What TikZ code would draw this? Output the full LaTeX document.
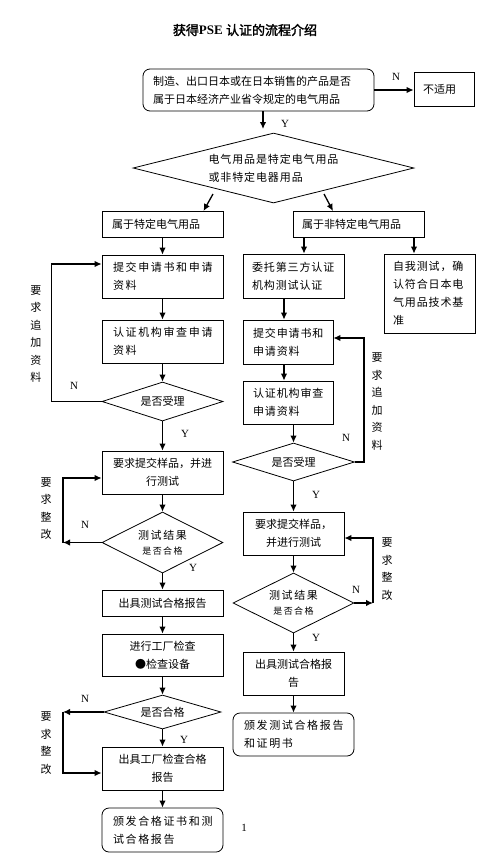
\documentclass[tikz,border=0pt]{standalone}
\usepackage{fontspec}
\setmainfont{Liberation Serif}
\newfontfamily\fa{Noto Sans CJK SC}
\newfontfamily\fb{Noto Sans CJK SC}[LetterSpace=8]
\newfontfamily\fc{Noto Sans CJK SC}[LetterSpace=15]
\newfontfamily\ftb{Noto Sans CJK SC}[FakeBold=2]
\usetikzlibrary{arrows.meta,shapes.geometric,calc}
\tikzset{
  bx/.style={draw, line width=0.8pt, inner sep=0pt},
  rb/.style={bx, rounded corners=7pt},
  dm/.style={draw, line width=0.8pt, diamond, inner sep=0pt},
  fA/.style={font=\fontsize{11}{18}\selectfont\fa},
  fB/.style={font=\fontsize{11}{18}\selectfont\fb},
  fC/.style={font=\fontsize{11}{18}\selectfont\fc},
  arr/.style={line width=1.3pt, -{Latex[length=7pt,width=6.5pt]}},
  ln/.style={line width=1.3pt},
  lab/.style={font=\fontsize{11}{13}\selectfont, inner sep=0pt},
  vlab/.style={font=\fontsize{11}{17.5}\selectfont\fa, align=center, inner sep=0pt}
}
\begin{document}
\begin{tikzpicture}[x=1pt,y=-1pt]
\fill[white] (0,0) rectangle (500,865);
\useasboundingbox (0,0) rectangle (500,865);

% title
\node[font=\fontsize{13}{15}\selectfont, inner sep=0pt] (title) at (245,30) {{\ftb 获得}\textbf{PSE} {\ftb 认证的流程介绍}};

% top
\node[rb, fA, minimum width=231pt, minimum height=42pt, text width=211pt, align=left] (top) at (258.5,90) {制造、出口日本或在日本销售的产品是否\\属于日本经济产业省令规定的电气用品};
\node[bx, fA, minimum width=60pt, minimum height=34pt, text width=42pt, align=left] (na) at (444,89) {不适用};
\node[dm, fB, minimum width=281pt, minimum height=70pt, shape aspect=4, align=left] (d1) at (273.5,168) {电气用品是特定电气用品\\或非特定电器用品};
\node[bx, fA, minimum width=121pt, minimum height=26pt, text width=101pt, align=left] (B1) at (162.5,224) {属于特定电气用品};
\node[bx, fA, minimum width=131pt, minimum height=26pt, text width=113pt, align=left] (B2) at (358.5,224) {属于非特定电气用品};

% left column
\node[bx, fC, minimum width=121pt, minimum height=43pt, text width=99pt, align=left] (L1) at (162.5,276.5) {提交申请书和申请\\资料};
\node[bx, fC, minimum width=121pt, minimum height=43pt, text width=99pt, align=left] (L2) at (162.5,341.5) {认证机构审查申请\\资料};
\node[dm, fA, minimum width=121pt, minimum height=39pt, shape aspect=3] (LD1) at (162.5,401.5) {是否受理};
\node[bx, fA, minimum width=121pt, minimum height=43pt, align=center] (L3) at (162.5,472.5) {要求提交样品，并进\\行测试};
\node[dm, fC, minimum width=121pt, minimum height=61pt, shape aspect=2, align=center] (LD2) at (162.5,542.5) {测试结果\\[-3pt]{\fontsize{9}{12}\selectfont 是否合格}};
\node[bx, fA, minimum width=121pt, minimum height=26pt, align=center] (L4) at (162.5,603) {出具测试合格报告};
\node[bx, fA, minimum width=121pt, minimum height=42pt, align=center] (L5) at (162.5,655) {进行工厂检查\\●检查设备};
\node[dm, fA, minimum width=117pt, minimum height=34pt, shape aspect=3.4] (LD3) at (162.5,712) {是否合格};
\node[bx, fA, minimum width=121pt, minimum height=43pt, align=center] (L6) at (162.5,768.5) {出具工厂检查合格\\报告};
\node[rb, fC, minimum width=121pt, minimum height=44pt, text width=99pt, align=left] (L7) at (162.5,830) {颁发合格证书和测\\试合格报告};

% right column
\node[bx, fB, minimum width=101pt, minimum height=44pt, text width=83pt, align=left] (R1) at (293.5,276) {委托第三方认证\\机构测试认证};
\node[bx, fB, minimum width=91pt, minimum height=79pt, text width=73pt, align=left] (S1) at (429.5,293.5) {自我测试，确\\认符合日本电\\气用品技术基\\准};
\node[bx, fB, minimum width=90pt, minimum height=44pt, text width=70pt, align=left] (R2) at (288,342) {提交申请书和\\申请资料};
\node[bx, fB, minimum width=90pt, minimum height=43pt, text width=70pt, align=left] (R3) at (288,402.5) {认证机构审查\\申请资料};
\node[dm, fA, minimum width=122pt, minimum height=38pt, shape aspect=3.2] (RD1) at (293.5,462) {是否受理};
\node[bx, fA, minimum width=101pt, minimum height=43pt, align=center] (R4) at (293.5,533.5) {要求提交样品，\\并进行测试};
\node[dm, fC, minimum width=121pt, minimum height=60pt, shape aspect=2, align=center] (RD2) at (293.5,603) {测试结果\\[-3pt]{\fontsize{9}{12}\selectfont 是否合格}};
\node[bx, fA, minimum width=101pt, minimum height=43pt, align=center] (R5) at (293.5,673.5) {出具测试合格报\\告};
\node[rb, fC, minimum width=121pt, minimum height=43pt, text width=99pt, align=left] (R6) at (293.5,734.5) {颁发测试合格报告\\和证明书};

% top connectors
\draw[arr] (top.east) -- (top.east -| na.west);
\node[lab] (n0) at (396,77) {N};
\coordinate (c0e) at (263,129);
\draw[arr] ([xshift=4.5pt]top.south) -- (c0e);
\node[lab] (y0) at (285,124) {Y};
\coordinate (c1s) at (213,194);
\coordinate (c1e) at (203.5,211);
\draw[arr] (c1s) -- (c1e);
\coordinate (c2s) at (324,194);
\coordinate (c2e) at (333,211);
\draw[arr] (c2s) -- (c2e);

% left connectors
\draw[arr] (B1.south) -- (L1.north);
\draw[arr] (L1.south) -- (L2.north);
\draw[arr] (L2.south) -- (LD1.north);
\draw[arr] (LD1.south) -- (L3.north);
\draw[arr] (L3.south) -- (LD2.north);
\draw[arr] (LD2.south) -- (L4.north);
\draw[arr] (L4.south) -- (L5.north);
\draw[arr] (L5.south) -- (LD3.north);
\draw[arr] (LD3.south) -- (L6.north);
\draw[arr] (L6.south) -- (L7.north);
\node[lab] (y1) at (185,434) {Y};
\node[lab] (y2) at (193,568) {Y};
\node[lab] (y3) at (184,740) {Y};

% left loops
\draw[arr] (LD1.west) -- ++(-50,0) |- ([yshift=12.5pt]L1.west);
\node[lab] (n1) at (74,386) {N};
\node[vlab] (v1) at (36,334) {要\\求\\追\\加\\资\\料};
\coordinate (k2) at (63,542.5);
\draw[arr] (LD2.west) -- (k2);
\draw[arr] (k2) |- ([yshift=-5.5pt]L3.west);
\node[lab] (n2) at (85,525) {N};
\node[vlab] (v2) at (46,508.5) {要\\求\\整\\改};
\coordinate (k3) at (63,712);
\draw[arr] (LD3.west) -- (k3);
\draw[arr] (k3) |- ([yshift=-4.5pt]L6.west);
\node[lab] (n3) at (85,699) {N};
\node[vlab] (v3) at (46,743) {要\\求\\整\\改};

% right connectors
\draw[arr] ([xshift=-54.5pt]B2.south) -- ([xshift=10.5pt]R1.north);
\draw[arr] ([xshift=55.5pt]B2.south) -- ([xshift=-15.5pt]S1.north);
\draw[arr] ([xshift=-9.5pt]R1.south) -- ([xshift=-4pt]R2.north);
\draw[arr] ([xshift=-4pt]R2.south) -- ([xshift=-4pt]R3.north);
\draw[arr] ([xshift=5.5pt]R3.south) -- (RD1.north);
\draw[arr] (RD1.south) -- (R4.north);
\draw[arr] (R4.south) -- (RD2.north);
\draw[arr] (RD2.south) -- (R5.north);
\draw[arr] (R5.south) -- (R6.north);
\node[lab] (y4) at (316,495) {Y};
\node[lab] (y5) at (316,638) {Y};

% right loops
\draw[arr] (RD1.east) -- ++(9,0) |- ([yshift=4pt]R2.east);
\node[lab] (n4) at (346,438) {N};
\node[vlab] (v4) at (377,401.5) {要\\求\\追\\加\\资\\料};
\coordinate (k5) at (373,603);
\draw[arr] (RD2.east) -- (k5);
\draw[arr] (k5) |- ([yshift=-4.5pt]R4.east);
\node[lab] (n5) at (356,590) {N};
\node[vlab] (v5) at (387,569) {要\\求\\整\\改};

% page number
\node[lab] (pg) at (244,828) {1};
\end{tikzpicture}
\end{document}
